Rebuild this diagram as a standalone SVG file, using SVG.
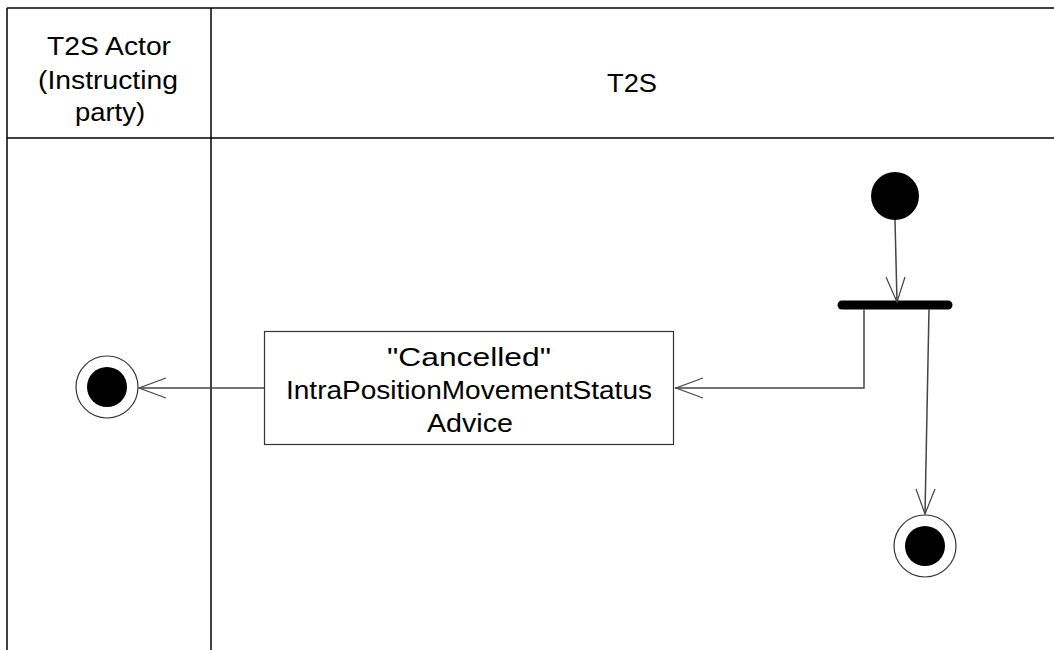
<svg xmlns="http://www.w3.org/2000/svg" width="1054" height="650" viewBox="0 0 1054 650">
<style>
.lane{stroke:#000;stroke-width:1.5;fill:none}
.t{font-family:"Liberation Sans",Arial,sans-serif;font-size:25px;fill:#000;text-anchor:middle}
.flow{stroke:#444;stroke-width:1.5;fill:none}
.head{stroke:#444;stroke-width:1.2;fill:none}
</style>
<rect width="1054" height="650" fill="#fff"/>
<g id="lanes">
<line class="lane" x1="7" y1="8" x2="1054" y2="8"/>
<line class="lane" x1="7" y1="8" x2="7" y2="650"/>
<line class="lane" x1="211" y1="8" x2="211" y2="650"/>
<line class="lane" x1="7" y1="138" x2="1054" y2="138" stroke="#444"/>
<text class="t" x="109" y="55" textLength="124" lengthAdjust="spacingAndGlyphs">T2S Actor</text>
<text class="t" x="108" y="89" textLength="140" lengthAdjust="spacingAndGlyphs">(Instructing</text>
<text class="t" x="110" y="121" textLength="70" lengthAdjust="spacingAndGlyphs">party)</text>
<text class="t" x="632" y="92" textLength="50" lengthAdjust="spacingAndGlyphs">T2S</text>
</g>
<g id="start"><circle cx="895" cy="196" r="24" fill="#000"/></g>
<g id="fork"><line x1="842" y1="305" x2="948" y2="305" stroke="#000" stroke-width="9" stroke-linecap="round"/></g>
<g id="action">
<rect x="264.5" y="331.5" width="409" height="113" fill="#fff" stroke="#333" stroke-width="1.2"/>
<text class="t" x="469" y="366" textLength="164" lengthAdjust="spacingAndGlyphs">"Cancelled"</text>
<text class="t" x="469" y="399" textLength="366" lengthAdjust="spacingAndGlyphs">IntraPositionMovementStatus</text>
<text class="t" x="470" y="432" textLength="86" lengthAdjust="spacingAndGlyphs">Advice</text>
</g>
<g id="endLeft">
<circle cx="107" cy="387" r="31" fill="#fff" stroke="#333" stroke-width="1.2"/>
<circle cx="107" cy="387" r="20" fill="#000"/>
</g>
<g id="endRight">
<circle cx="925" cy="546" r="31" fill="#fff" stroke="#333" stroke-width="1.2"/>
<circle cx="925" cy="546" r="20" fill="#000"/>
</g>
<g id="connectors">
<line class="flow" x1="895" y1="220" x2="897" y2="302"/>
<polyline class="head" points="886,277 897,302 905,277"/>
<polyline class="flow" points="864,309 864,388 675,388"/>
<polyline class="head" points="703,378 676,388 703,398"/>
<line class="flow" x1="264" y1="388" x2="139" y2="388"/>
<polyline class="head" points="166,378 139,388 166,398"/>
<line class="flow" x1="929" y1="309" x2="925" y2="514"/>
<polyline class="head" points="916,489 925,514 935,489"/>
</g>
</svg>
